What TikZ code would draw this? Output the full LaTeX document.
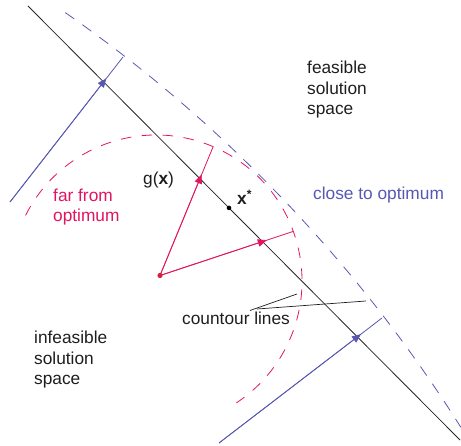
\documentclass[tikz,border=0pt]{standalone}
\usepackage{fontspec}
\setmainfont{Liberation Sans}
\usetikzlibrary{arrows.meta,calc}
\definecolor{bluec}{RGB}{88,88,180}
\definecolor{redc}{RGB}{226,20,96}
\definecolor{dotred}{RGB}{214,32,56}
\definecolor{txt}{RGB}{30,30,30}
\begin{document}
\begin{tikzpicture}[x=1pt,y=1pt,
  lbl/.style={font=\fontsize{17.3}{20.5}\selectfont, text=txt, inner sep=0pt},
  blueline/.style={draw=bluec, line width=0.8pt},
  redline/.style={draw=redc, line width=0.8pt},
  bluedash/.style={draw=bluec, line width=0.8pt, dash pattern=on 11pt off 10pt},
  reddash/.style={draw=redc, line width=0.8pt, dash pattern=on 10.5pt off 10.5pt},
  midtip/.style={-{Triangle[length=9pt,width=7.5pt]}},
  leader/.style={draw=txt, line width=0.7pt}
]
\useasboundingbox (0,0) rectangle (461,445);
% main constraint line
\coordinate (L1) at (28,439);
\coordinate (L2) at (460,5);
\draw[line width=0.8pt, draw=black!85] (L1) -- (L2);
% blue contour (close to optimum)
\coordinate (BC) at (-758,-749);
\draw[bluedash] (BC) ++(55.13:1440) arc[start angle=55.13, end angle=32.17, radius=1440];
% red contour (far from optimum)
\coordinate (RC) at (156,164);
\draw[reddash] (RC) ++(153.3:146) arc[start angle=153.3, end angle=-56.6, radius=146];
% blue normals
\coordinate (b1s) at (10,243);
\coordinate (b1e) at (123,388);
\coordinate (b2s) at (219,2);
\coordinate (b2e) at (382,127);
\coordinate (I1) at (intersection of L1--L2 and b1s--b1e);
\coordinate (I2) at (intersection of L1--L2 and b2s--b2e);
\draw[blueline] (b1s) -- (b1e);
\draw[blueline] (b2s) -- (b2e);
\draw[blueline, midtip] (b1s) -- ($(I1)!4.5pt!(b1e)$);
\draw[blueline, midtip] (b2s) -- ($(I2)!4.5pt!(b2e)$);
% red normals
\coordinate (D) at (160,169.5);
\coordinate (r1e) at (213,298);
\coordinate (r2e) at (293,213.5);
\coordinate (I3) at (intersection of L1--L2 and D--r1e);
\coordinate (I4) at (intersection of L1--L2 and D--r2e);
\draw[redline] (D) -- (r1e);
\draw[redline] (D) -- (r2e);
\draw[redline, midtip] (D) -- ($(I3)!4.5pt!(r1e)$);
\draw[redline, midtip] (D) -- ($(I4)!4.5pt!(r2e)$);
\fill[dotred] (D) circle (2.6);
% optimum point
\coordinate (X) at ($(L1)!0.4653!(L2)$);
\fill[black] (X) circle (2.3);
% labels
\node[lbl, anchor=north west, align=left] (feas) at (307,384) {feasible\\solution\\space};
\node[lbl, anchor=north west, align=left] (infeas) at (34,114) {infeasible\\solution\\space};
\node[lbl, anchor=north west, align=left, text=redc] (far) at (53,256.4) {far from\\optimum};
\node[lbl, anchor=base west, text=bluec] (close) at (313,245) {close to optimum};
\node[lbl, anchor=base west] (g) at (143,260) {g(\textbf{x})};
\node[lbl, anchor=base west] (xs) at (237,240) {\textbf{x}\textsuperscript{\textbf{*}}};
\node[lbl, anchor=base west] (cl) at (182,120) {countour lines};
% leaders
\coordinate (c0) at (250,134.5);
\coordinate (c1) at (257,136);
\coordinate (cA) at (297,151);
\coordinate (cB) at (366,144);
\draw[leader] (c0) -- (cA);
\draw[leader] (c1) -- (cB);
\end{tikzpicture}
\end{document}
